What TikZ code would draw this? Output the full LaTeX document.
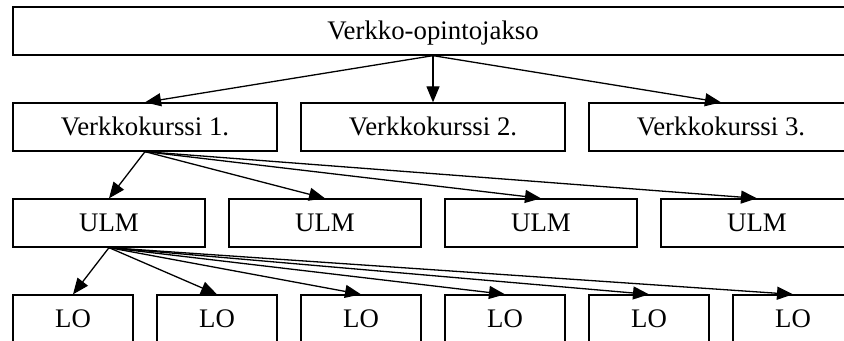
\documentclass[tikz,border=0pt]{standalone}
\usepackage{fontspec}
\setmainfont{Liberation Serif}
\usetikzlibrary{positioning, arrows.meta}

\begin{document}
\begin{tikzpicture}[-{Triangle[length=8pt,width=6.5pt]}, line width=0.65pt]
\tikzstyle{box}=[draw, rectangle, -, minimum height=24pt, inner sep=0pt, text height=8.8pt, text depth=0pt, font=\fontsize{13.4}{15}\selectfont]
\useasboundingbox (0,0) rectangle (422pt,-170.5pt);
% opintojakso
\node[box, minimum width=420pt]    	(T) at (216.5pt,-15.5pt)  {Verkko-opintojakso};
% kurssit
\node[box, minimum width=132pt]    	(K1) at (72.5pt,-63.5pt)  {Verkkokurssi 1.};
\node[box, minimum width=132pt, node distance=144pt]  (K2)[right of=K1]  {Verkkokurssi 2.};
\node[box, minimum width=132pt, node distance=144pt]  (K3)[right of=K2]  {Verkkokurssi 3.};
% ulm-taso
\node[box, minimum width=96pt]    	(U1) at (54.5pt,-111.5pt)  {ULM};
\node[box, minimum width=96pt, node distance=108pt]  (U2)[right of=U1]  {ULM};
\node[box, minimum width=96pt, node distance=108pt]  (U3)[right of=U2]  {ULM};
\node[box, minimum width=96pt, node distance=108pt]  (U4)[right of=U3]  {ULM};
% lo-taso
\node[box, minimum width=60pt]    	(L1) at (36.5pt,-159.5pt)  {LO};
\node[box, minimum width=60pt, node distance=72pt]  (L2)[right of=L1]  {LO};
\node[box, minimum width=60pt, node distance=72pt]  (L3)[right of=L2]  {LO};
\node[box, minimum width=60pt, node distance=72pt]  (L4)[right of=L3]  {LO};
\node[box, minimum width=60pt, node distance=72pt]  (L5)[right of=L4]  {LO};
\node[box, minimum width=60pt, node distance=72pt]  (L6)[right of=L5]  {LO};
\path
(T.south) edge     	(K1.north)
(T.south) edge     	(K2.north)
(T.south) edge     	(K3.north)
(K1.south) edge     	(U1.north)
(K1.south) edge     	(U2.north)
(K1.south) edge     	(U3.north)
(K1.south) edge     	(U4.north)
(U1.south) edge     	(L1.north)
(U1.south) edge     	(L2.north)
(U1.south) edge     	(L3.north)
(U1.south) edge     	(L4.north)
(U1.south) edge     	(L5.north)
(U1.south) edge     	(L6.north);
\end{tikzpicture}
\end{document}
